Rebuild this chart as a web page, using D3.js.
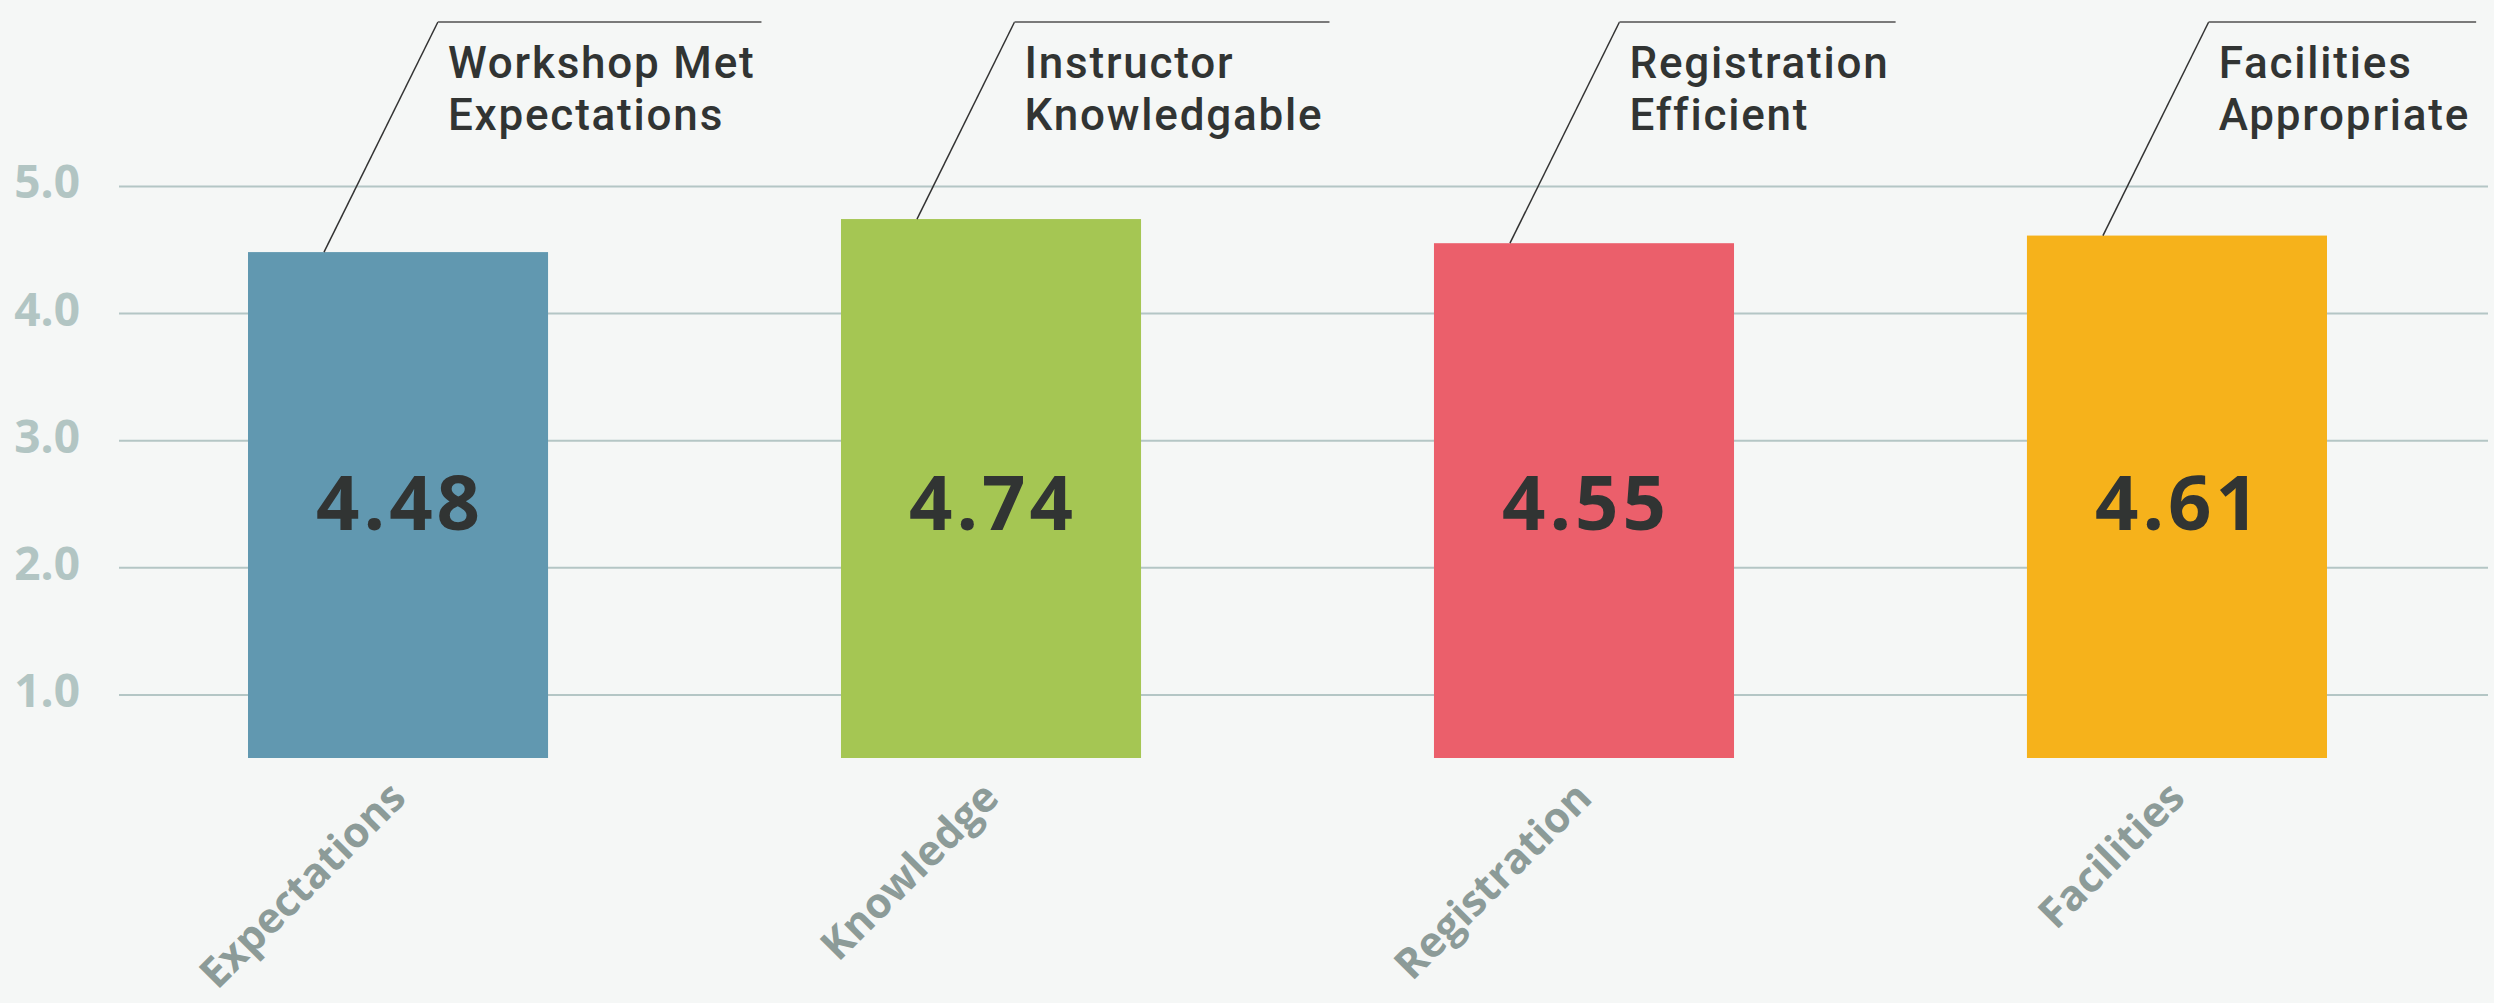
<!DOCTYPE html>
<html>
<head>
<meta charset="utf-8">
<script src="https://cdn.jsdelivr.net/npm/d3@7"></script>
<style>
  html, body { margin: 0; padding: 0; background: #f5f7f6; }
  svg { display: block; font-family: "Open Sans", sans-serif; }
</style>
</head>
<body>
<div id="chart"></div>
<script>
const width = 2494;
const height = 1003;

// data
const categories = ["Expectations", "Knowledge", "Registration", "Facilities"];
const scores = [4.48, 4.74, 4.55, 4.61];
const titleLines = [
  ["Workshop Met", "Expectations"],
  ["Instructor", "Knowledgable"],
  ["Registration", "Efficient"],
  ["Facilities", "Appropriate"],
];
const barColors = ["#6198b0", "#a5c653", "#eb5f6b", "#f6b21b"];
const yTicks = [1.0, 2.0, 3.0, 4.0, 5.0];

const data = categories.map(function (c, i) {
  return { cat: c, value: scores[i], title: titleLines[i], color: barColors[i] };
});

const svg = d3
  .select("#chart")
  .append("svg")
  .attr("width", width)
  .attr("height", height)
  .attr("viewBox", [0, 0, width, height]);

svg.append("rect").attr("width", width).attr("height", height).attr("fill", "#f5f7f6");

const x = d3
  .scaleBand()
  .domain(categories)
  .range([248, 2327])
  .paddingInner(0.494)
  .paddingOuter(0);

const y = d3.scaleLinear().domain([0.5, 5]).range([758, 186]);

// gridlines + tick labels
const gridLeft = 119;
const yAxis = d3
  .axisLeft(y)
  .tickValues(yTicks)
  .tickFormat(d3.format(".1f"))
  .tickSizeInner(-(2488 - gridLeft))
  .tickSizeOuter(0)
  .tickPadding(39);

const yg = svg
  .append("g")
  .attr("transform", "translate(" + gridLeft + ",0)")
  .call(yAxis);
yg.select(".domain").remove();
yg.selectAll(".tick line").attr("stroke", "#b4c6c5").attr("stroke-width", 2);
yg.selectAll(".tick text")
  .attr("fill", "#b2c5c3")
  .attr("font-family", "Open Sans")
  .attr("font-weight", 700)
  .attr("font-size", 46)
  .attr("dy", "0.26em");

// bars
svg
  .selectAll("rect.bar")
  .data(data)
  .enter()
  .append("rect")
  .attr("class", "bar")
  .attr("x", function (d) { return x(d.cat); })
  .attr("y", function (d) { return y(d.value); })
  .attr("width", x.bandwidth())
  .attr("height", function (d) { return y(0.5) - y(d.value); })
  .attr("fill", function (d) { return d.color; });

// value labels inside bars
svg
  .selectAll("text.val")
  .data(data)
  .enter()
  .append("text")
  .attr("class", "val")
  .attr("x", function (d) { return x(d.cat) + x.bandwidth() / 2 + 2; })
  .attr("y", y(2.5) + 26)
  .attr("text-anchor", "middle")
  .attr("font-size", 76)
  .attr("font-weight", 700)
  .attr("letter-spacing", 4)
  .attr("fill", "#313433")
  .text(function (d) { return d3.format(".2f")(d.value); });

// rotated category labels
svg
  .selectAll("text.cat")
  .data(data)
  .enter()
  .append("text")
  .attr("class", "cat")
  .attr("transform", function (d) {
    return "translate(" + (x(d.cat) + x.bandwidth() / 2 + 10) + ",800) rotate(-45)";
  })
  .attr("text-anchor", "end")
  .attr("font-size", 42)
  .attr("font-weight", 700)
  .attr("fill", "#8c9b98")
  .text(function (d) { return d.cat; });

// callouts
const topY = 22;
const slope = 0.495;
const callouts = svg
  .selectAll("g.callout")
  .data(data)
  .enter()
  .append("g")
  .attr("class", "callout");

callouts.each(function (d) {
  const g = d3.select(this);
  const bx = x(d.cat) + 76;
  const by = y(d.value);
  const ex = bx + slope * (by - topY);

  let right = 0;
  d.title.forEach(function (s, i) {
    const t = g
      .append("text")
      .attr("x", ex + 10)
      .attr("y", 78 + i * 52)
      .attr("font-family", "Roboto")
      .attr("font-size", 44)
      .attr("font-weight", 500)
      .attr("letter-spacing", 1.8)
      .attr("fill", "#313433")
      .text(s);
    const bb = t.node().getBBox();
    right = Math.max(right, bb.x + bb.width);
  });

  g.append("line")
    .attr("x1", bx)
    .attr("y1", by)
    .attr("x2", ex)
    .attr("y2", topY)
    .attr("stroke", "#333")
    .attr("stroke-width", 1.5);

  g.append("line")
    .attr("x1", ex)
    .attr("y1", topY)
    .attr("x2", right + 6)
    .attr("y2", topY)
    .attr("stroke", "#7a7a7a")
    .attr("stroke-width", 2);
});
</script>
</body>
</html>
